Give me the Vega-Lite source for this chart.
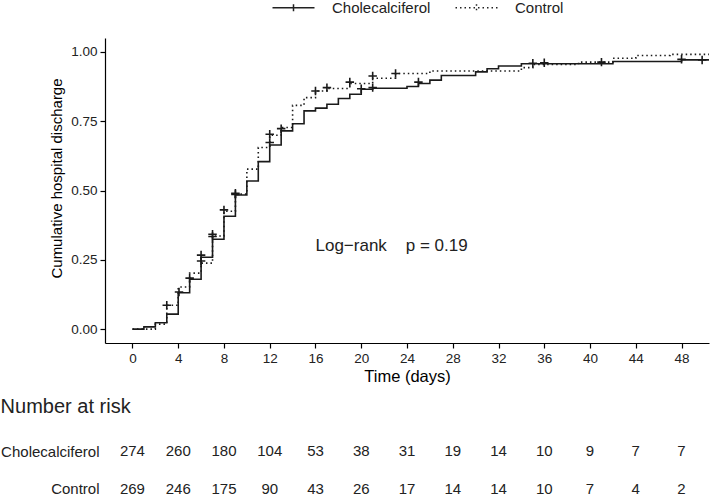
{
  "$schema": "https://vega.github.io/schema/vega-lite/v6.json",
  "padding": {"left": 0, "top": 0, "right": 4, "bottom": 0},
  "background": "white",
  "spacing": 12,
  "config": {
    "font": "Liberation Sans",
    "view": {"stroke": null},
    "axis": {"grid": false, "domainColor": "#000", "domainWidth": 1.2, "tickColor": "#000", "tickWidth": 1.2, "tickSize": 5, "labelColor": "#222", "titleColor": "#000", "titleFontWeight": "normal", "labelFontSize": 13.5, "titleFontSize": 16}
  },
  "datasets": {
    "curves": [
      {"group": "Cholecalciferol", "time": 0, "value": 0},
      {"group": "Cholecalciferol", "time": 1, "value": 0.008},
      {"group": "Cholecalciferol", "time": 2, "value": 0.023},
      {"group": "Cholecalciferol", "time": 3, "value": 0.054},
      {"group": "Cholecalciferol", "time": 4, "value": 0.131},
      {"group": "Cholecalciferol", "time": 5, "value": 0.180},
      {"group": "Cholecalciferol", "time": 6, "value": 0.259},
      {"group": "Cholecalciferol", "time": 7, "value": 0.324},
      {"group": "Cholecalciferol", "time": 8, "value": 0.407},
      {"group": "Cholecalciferol", "time": 9, "value": 0.484},
      {"group": "Cholecalciferol", "time": 10, "value": 0.534},
      {"group": "Cholecalciferol", "time": 11, "value": 0.604},
      {"group": "Cholecalciferol", "time": 12, "value": 0.664},
      {"group": "Cholecalciferol", "time": 13, "value": 0.715},
      {"group": "Cholecalciferol", "time": 14, "value": 0.741},
      {"group": "Cholecalciferol", "time": 15, "value": 0.787},
      {"group": "Cholecalciferol", "time": 16, "value": 0.797},
      {"group": "Cholecalciferol", "time": 17, "value": 0.811},
      {"group": "Cholecalciferol", "time": 18, "value": 0.832},
      {"group": "Cholecalciferol", "time": 19, "value": 0.847},
      {"group": "Cholecalciferol", "time": 20, "value": 0.865},
      {"group": "Cholecalciferol", "time": 21, "value": 0.869},
      {"group": "Cholecalciferol", "time": 24, "value": 0.875},
      {"group": "Cholecalciferol", "time": 25, "value": 0.886},
      {"group": "Cholecalciferol", "time": 26, "value": 0.898},
      {"group": "Cholecalciferol", "time": 27, "value": 0.915},
      {"group": "Cholecalciferol", "time": 30, "value": 0.928},
      {"group": "Cholecalciferol", "time": 31, "value": 0.939},
      {"group": "Cholecalciferol", "time": 32, "value": 0.949},
      {"group": "Cholecalciferol", "time": 34, "value": 0.957},
      {"group": "Cholecalciferol", "time": 42, "value": 0.965},
      {"group": "Cholecalciferol", "time": 48, "value": 0.971},
      {"group": "Cholecalciferol", "time": 50.4, "value": 0.971},
      {"group": "Control", "time": 0, "value": 0},
      {"group": "Control", "time": 2, "value": 0.018},
      {"group": "Control", "time": 3, "value": 0.086},
      {"group": "Control", "time": 4, "value": 0.152},
      {"group": "Control", "time": 5, "value": 0.202},
      {"group": "Control", "time": 6, "value": 0.238},
      {"group": "Control", "time": 7, "value": 0.336},
      {"group": "Control", "time": 8, "value": 0.425},
      {"group": "Control", "time": 9, "value": 0.487},
      {"group": "Control", "time": 10, "value": 0.577},
      {"group": "Control", "time": 11, "value": 0.655},
      {"group": "Control", "time": 12, "value": 0.699},
      {"group": "Control", "time": 13, "value": 0.727},
      {"group": "Control", "time": 14, "value": 0.807},
      {"group": "Control", "time": 15, "value": 0.835},
      {"group": "Control", "time": 16, "value": 0.859},
      {"group": "Control", "time": 17, "value": 0.868},
      {"group": "Control", "time": 19, "value": 0.886},
      {"group": "Control", "time": 21, "value": 0.905},
      {"group": "Control", "time": 23, "value": 0.922},
      {"group": "Control", "time": 26, "value": 0.931},
      {"group": "Control", "time": 34, "value": 0.943},
      {"group": "Control", "time": 35, "value": 0.955},
      {"group": "Control", "time": 39, "value": 0.963},
      {"group": "Control", "time": 42, "value": 0.977},
      {"group": "Control", "time": 44, "value": 0.987},
      {"group": "Control", "time": 47, "value": 0.991},
      {"group": "Control", "time": 50.4, "value": 0.991}
    ],
    "censor": [
      {"group": "Control", "time": 3, "value": 0.086},
      {"group": "Control", "time": 6, "value": 0.246},
      {"group": "Control", "time": 7, "value": 0.342},
      {"group": "Control", "time": 8, "value": 0.43},
      {"group": "Control", "time": 9, "value": 0.49},
      {"group": "Control", "time": 12, "value": 0.703},
      {"group": "Control", "time": 13, "value": 0.723},
      {"group": "Control", "time": 16, "value": 0.859},
      {"group": "Control", "time": 17, "value": 0.871},
      {"group": "Control", "time": 19, "value": 0.891},
      {"group": "Control", "time": 21, "value": 0.913},
      {"group": "Control", "time": 23, "value": 0.922},
      {"group": "Cholecalciferol", "time": 4.07, "value": 0.134},
      {"group": "Cholecalciferol", "time": 5, "value": 0.184},
      {"group": "Cholecalciferol", "time": 6, "value": 0.267},
      {"group": "Cholecalciferol", "time": 7, "value": 0.334},
      {"group": "Cholecalciferol", "time": 9, "value": 0.486},
      {"group": "Cholecalciferol", "time": 12, "value": 0.673},
      {"group": "Cholecalciferol", "time": 20, "value": 0.867},
      {"group": "Cholecalciferol", "time": 21, "value": 0.871},
      {"group": "Cholecalciferol", "time": 25, "value": 0.891},
      {"group": "Cholecalciferol", "time": 35, "value": 0.959},
      {"group": "Cholecalciferol", "time": 36, "value": 0.961},
      {"group": "Cholecalciferol", "time": 41, "value": 0.963},
      {"group": "Cholecalciferol", "time": 48, "value": 0.973},
      {"group": "Cholecalciferol", "time": 49.8, "value": 0.971}
    ],
    "annot": [
      {"time": 16, "value": 0.3, "label": "Log\u2212rank\u00a0\u00a0\u00a0\u00a0p = 0.19"}
    ],
    "risk": [
      {"group": "Cholecalciferol", "time": 0, "n": 274},
      {"group": "Cholecalciferol", "time": 4, "n": 260},
      {"group": "Cholecalciferol", "time": 8, "n": 180},
      {"group": "Cholecalciferol", "time": 12, "n": 104},
      {"group": "Cholecalciferol", "time": 16, "n": 53},
      {"group": "Cholecalciferol", "time": 20, "n": 38},
      {"group": "Cholecalciferol", "time": 24, "n": 31},
      {"group": "Cholecalciferol", "time": 28, "n": 19},
      {"group": "Cholecalciferol", "time": 32, "n": 14},
      {"group": "Cholecalciferol", "time": 36, "n": 10},
      {"group": "Cholecalciferol", "time": 40, "n": 9},
      {"group": "Cholecalciferol", "time": 44, "n": 7},
      {"group": "Cholecalciferol", "time": 48, "n": 7},
      {"group": "Control", "time": 0, "n": 269},
      {"group": "Control", "time": 4, "n": 246},
      {"group": "Control", "time": 8, "n": 175},
      {"group": "Control", "time": 12, "n": 90},
      {"group": "Control", "time": 16, "n": 43},
      {"group": "Control", "time": 20, "n": 26},
      {"group": "Control", "time": 24, "n": 17},
      {"group": "Control", "time": 28, "n": 14},
      {"group": "Control", "time": 32, "n": 14},
      {"group": "Control", "time": 36, "n": 10},
      {"group": "Control", "time": 40, "n": 7},
      {"group": "Control", "time": 44, "n": 4},
      {"group": "Control", "time": 48, "n": 2}
    ]
  },
  "resolve": {"scale": {"x": "independent", "y": "independent"}},
  "vconcat": [
    {
      "width": 604,
      "height": 305,
      "layer": [
        {
          "data": {"name": "curves"},
          "mark": {"type": "line", "interpolate": "step-after", "strokeWidth": 1.6, "color": "#1a1a1a", "clip": true},
          "encoding": {
            "x": {"field": "time", "type": "quantitative", "scale": {"domain": [-2.4, 50.4], "nice": false, "zero": false},
                  "axis": {"values": [0, 4, 8, 12, 16, 20, 24, 28, 32, 36, 40, 44, 48], "title": "Time (days)", "titleFontSize": 16.5, "labelPadding": 3, "titlePadding": 4, "labelOverlap": false}},
            "y": {"field": "value", "type": "quantitative", "scale": {"domain": [-0.05, 1.05], "nice": false, "zero": false},
                  "axis": {"values": [0, 0.25, 0.5, 0.75, 1], "format": ".2f", "title": "Cumulative hospital discharge", "titleFontSize": 15, "titleY": 140, "labelPadding": 3, "titlePadding": 6}},
            "strokeDash": {"field": "group", "type": "nominal",
                           "scale": {"domain": ["Cholecalciferol", "Control"], "range": [[1, 0], [1.5, 3]]},
                           "legend": {"orient": "none", "legendX": 181, "legendY": -38, "direction": "horizontal", "title": null,
                                      "labelFontSize": 15, "labelColor": "#222", "symbolType": "M-4.2,0H4.2M0,-0.7V0.7", "symbolSize": 100,
                                      "symbolStrokeWidth": 1.5, "symbolStrokeColor": "#222", "labelOffset": 31, "columnPadding": 21, "padding": 0, "labelLimit": 300}}
          }
        },
        {
          "data": {"name": "censor"},
          "mark": {"type": "point", "shape": "M-1,0H1M0,-1V1", "size": 72, "filled": false, "stroke": "#1a1a1a", "strokeWidth": 1.6, "opacity": 1},
          "encoding": {
            "x": {"field": "time", "type": "quantitative"},
            "y": {"field": "value", "type": "quantitative"}
          }
        },
        {
          "data": {"name": "annot"},
          "mark": {"type": "text", "align": "left", "baseline": "middle", "fontSize": 17, "color": "#222"},
          "encoding": {
            "x": {"field": "time", "type": "quantitative"},
            "y": {"field": "value", "type": "quantitative"},
            "text": {"field": "label"}
          }
        }
      ]
    },
    {
      "width": 604,
      "height": 52,
      "title": {"text": "Number at risk", "anchor": "start", "frame": "bounds", "fontSize": 20, "fontWeight": "normal", "color": "#222", "offset": 27},
      "data": {"name": "risk"},
      "mark": {"type": "text", "fontSize": 15, "baseline": "middle", "color": "#222"},
      "encoding": {
        "x": {"field": "time", "type": "quantitative", "scale": {"domain": [-2.4, 50.4], "nice": false, "zero": false}, "axis": null},
        "y": {"field": "group", "type": "nominal", "scale": {"type": "point", "padding": 0.2, "domain": ["Cholecalciferol", "Control"]},
              "axis": {"title": null, "domain": false, "ticks": false, "labelFontSize": 15, "labelPadding": 6, "labelColor": "#222"}},
        "text": {"field": "n", "type": "quantitative"}
      }
    }
  ]
}
